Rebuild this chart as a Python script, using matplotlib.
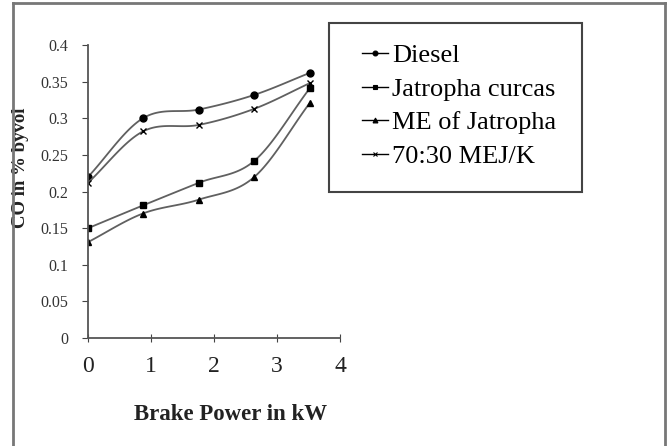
import matplotlib.pyplot as plt
from matplotlib.lines import Line2D
from matplotlib.patches import Rectangle
import numpy as np

plt.rcParams['font.family'] = ['Liberation Serif', 'DejaVu Serif']

# Brake power (kW) and CO emissions (% by vol)
brake_power = [0, 0.87, 1.76, 2.64, 3.52]
diesel = [0.220, 0.300, 0.312, 0.332, 0.362]
jatropha_curcas = [0.150, 0.181, 0.212, 0.242, 0.341]
me_jatropha = [0.131, 0.170, 0.189, 0.220, 0.321]
mej_k_70_30 = [0.212, 0.282, 0.291, 0.313, 0.348]

series_names = ['Diesel', 'Jatropha curcas', 'ME of Jatropha', '70:30 MEJ/K']
series_markers = ['o', 's', '^', 'x']
x_ticks = [0, 1, 2, 3, 4]
y_ticks = [0, 0.05, 0.1, 0.15, 0.2, 0.25, 0.3, 0.35, 0.4]


def smooth(x, y, n=30):
    # Catmull-Rom curve through the points, like Excel's "smoothed line"
    x = np.asarray(x, float)
    y = np.asarray(y, float)
    px = np.concatenate([[2 * x[0] - x[1]], x, [2 * x[-1] - x[-2]]])
    py = np.concatenate([[2 * y[0] - y[1]], y, [2 * y[-1] - y[-2]]])
    t = np.linspace(0, 1, n)
    xs, ys = [], []
    for i in range(1, len(px) - 2):
        for p, out in ((px, xs), (py, ys)):
            p0, p1, p2, p3 = p[i - 1], p[i], p[i + 1], p[i + 2]
            out.append(0.5 * (2 * p1 + (-p0 + p2) * t
                              + (2 * p0 - 5 * p1 + 4 * p2 - p3) * t**2
                              + (-p0 + 3 * p1 - 3 * p2 + p3) * t**3))
    return np.concatenate(xs), np.concatenate(ys)


fig = plt.figure(figsize=(6.72, 4.46), dpi=100)
ax = fig.add_axes([0.131, 0.242, 0.375, 0.657])

line_color = '#606060'
handles = []
for vals, name, mk in zip([diesel, jatropha_curcas, me_jatropha, mej_k_70_30],
                          series_names, series_markers):
    sx, sy = smooth(brake_power, vals)
    ax.plot(sx, sy, color=line_color, lw=1.3)
    ax.plot(brake_power, vals, linestyle='none', marker=mk, color='black',
            markersize=5, mew=1.0)
    handles.append(Line2D([], [], color='black', lw=1.0, marker=mk,
                          markersize=3.5, mew=0.8))

ax.set_xlim(0, 4)
ax.set_ylim(0, 0.4)
ax.set_xticks(x_ticks)
ax.set_yticks(y_ticks)
ax.set_yticklabels([f'{v:g}' for v in y_ticks])
ax.tick_params(axis='x', direction='inout', length=6, pad=10, labelsize=17,
               colors='#444444', labelcolor='#222222')
ax.tick_params(axis='y', direction='out', length=4, pad=10, labelsize=11.5,
               colors='#444444', labelcolor='#333333')
for side in ['top', 'right']:
    ax.spines[side].set_visible(False)
for side in ['left', 'bottom']:
    ax.spines[side].set_color('#555555')
    ax.spines[side].set_linewidth(1.3)

ax.set_xlabel('Brake Power in kW', fontsize=16.5, fontweight='bold',
              color='#222222')
ax.xaxis.set_label_coords(0.567, -0.225)
ax.set_ylabel('CO in % byvol', fontsize=13.5, fontweight='bold',
              color='#222222')
ax.yaxis.set_label_coords(-0.235, 0.58)

# legend box drawn like the spreadsheet one
fig.patches.append(Rectangle((329 / 672, 1 - 192 / 446), 253 / 672, 169 / 446,
                             transform=fig.transFigure, fill=False,
                             edgecolor='#444444', lw=1.5))
fig.legend(handles, series_names, loc='upper left',
           bbox_to_anchor=(362 / 672, 1 - 44 / 446), frameon=False,
           fontsize=19, handlelength=1.0, handletextpad=0.15,
           labelspacing=0.38, borderpad=0, borderaxespad=0)

# outer chart border
for xs, ys in [((13, 13), (446, 3)), ((13, 665), (3, 3)), ((665, 665), (3, 446))]:
    fig.add_artist(Line2D([x / 672 for x in xs], [1 - y / 446 for y in ys],
                          color='#777777', lw=2))

fig.savefig('out.png', dpi=100)
